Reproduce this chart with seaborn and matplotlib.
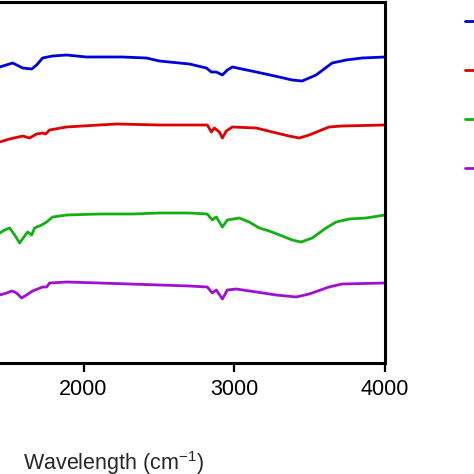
import pandas as pd
import matplotlib
matplotlib.use("Agg")
import matplotlib.pyplot as plt
import seaborn as sns

# FTIR-style traces (wavenumber, offset transmittance in a.u.)
labels = ["Sample 1", "Sample 2", "Sample 3", "Sample 4"]
colors = ["#0000dc", "#e00000", "#12b012", "#a010d4"]

wn_blue = [1430, 1444, 1530, 1596, 1656, 1689, 1728, 1795, 1887, 2020, 2258, 2417, 2503,
           2702, 2815, 2848, 2881, 2921, 2954, 2987, 3146, 3298, 3384, 3450, 3543, 3649,
           3742, 3848, 4000]
t_blue = [296, 296, 300, 295, 294, 298, 305, 307, 308, 306, 306, 305, 302,
          299, 295, 291, 291, 288, 293, 296, 291, 286, 283, 282, 288, 300,
          303, 305, 306]

wn_red = [1430, 1444, 1510, 1596, 1642, 1689, 1728, 1748, 1775, 1887, 1993, 2219, 2503,
          2702, 2821, 2848, 2868, 2901, 2921, 2947, 2987, 3146, 3252, 3364, 3431, 3497,
          3629, 3715, 4000]
t_red = [221, 221, 224, 227, 225, 229, 230, 229, 233, 236, 237, 239, 238,
         238, 238, 231, 235, 231, 225, 232, 236, 235, 231, 227, 225, 228,
         236, 237, 238]

wn_green = [1430, 1444, 1477, 1510, 1543, 1576, 1609, 1629, 1656, 1675, 1722, 1755, 1795,
            1887, 2106, 2325, 2503, 2702, 2821, 2854, 2881, 2921, 2954, 3033, 3099, 3166,
            3232, 3318, 3384, 3444, 3517, 3609, 3676, 3762, 3874, 4000]
t_green = [130, 130, 133, 135, 128, 120, 127, 131, 128, 135, 138, 141, 146,
           148, 149, 149, 150, 150, 149, 143, 146, 136, 143, 145, 141, 135,
           132, 127, 123, 121, 125, 135, 141, 144, 145, 148]

wn_purple = [1430, 1444, 1490, 1523, 1543, 1563, 1589, 1622, 1662, 1728, 1755, 1775, 1887,
             2106, 2503, 2702, 2821, 2854, 2881, 2921, 2954, 3013, 3146, 3278, 3411, 3497,
             3629, 3715, 4000]
t_purple = [68, 68, 70, 72, 71, 69, 65, 68, 72, 76, 76, 80, 81,
            80, 78, 77, 76, 70, 73, 64, 73, 74, 71, 68, 66, 69,
            76, 79, 80]

frames = []
for lab, w, t in zip(labels, [wn_blue, wn_red, wn_green, wn_purple],
                     [t_blue, t_red, t_green, t_purple]):
    frames.append(pd.DataFrame({"wn": w, "T": t, "sample": lab}))
df = pd.concat(frames, ignore_index=True)

sns.set_theme(style="white")
plt.rcParams["font.family"] = ["Liberation Sans", "DejaVu Sans"]
plt.rcParams["mathtext.default"] = "regular"

fig = plt.figure(figsize=(4.74, 4.74), dpi=100)
# axes extend past the left edge of the canvas (the reference is a crop)
ax = fig.add_axes([-157.6 / 474, 111 / 474, 542.6 / 474, 361 / 474])

sns.lineplot(data=df, x="wn", y="T", hue="sample", palette=colors,
             estimator=None, sort=False, linewidth=2.0, ax=ax, legend=False)

ax.set_xlim(400, 4000)
ax.set_ylim(0, 361)
ax.set_xticks([2000, 3000, 4000])
ax.set_yticks([])
ax.tick_params(axis="x", direction="out", length=6.5, width=1.6, pad=5,
               labelsize=15.5, colors="black", bottom=True)
for s in ax.spines.values():
    s.set_linewidth(2.2)
    s.set_color("black")

ax.set_xlabel("Wavelength (cm$^{-1}$)", fontsize=15.5, labelpad=35.5)
ax.set_ylabel("")

handles = [plt.Line2D([], [], color=c, lw=2.0) for c in colors]
fig.legend(handles, labels, loc="upper left", bbox_to_anchor=(465 / 474, 1 - 13 / 474),
           frameon=False, borderpad=0, borderaxespad=0, handlelength=2,
           labelspacing=1.29, fontsize=15.5)

fig.savefig("out.png", dpi=100)
